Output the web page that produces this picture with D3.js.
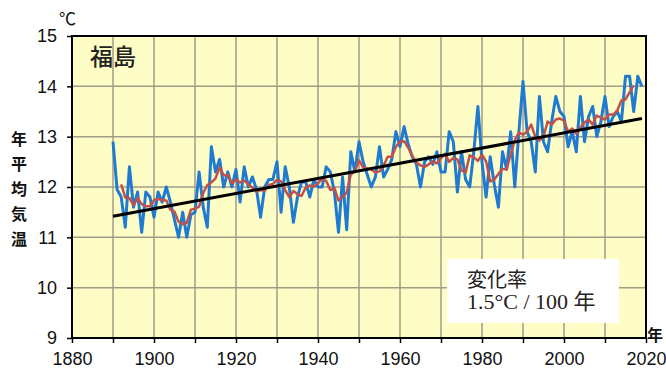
<!DOCTYPE html>
<html>
<head>
<meta charset="utf-8">
<script src="https://cdn.jsdelivr.net/npm/d3@7"></script>
<style>
  body { margin: 0; background: #fff; }
  svg { display: block; font-family: "Liberation Sans", Arial, sans-serif; }
</style>
</head>
<body>
<svg id="chart" width="666" height="371"></svg>
<script>
// annual mean temperature, Fukushima
var years = d3.range(1890, 2020);
var annual = [
  12.9, 11.95, 11.8, 11.2, 12.4, 11.6, 11.9, 11.1, 11.9, 11.8,
  11.4, 11.9, 11.7, 12.0, 11.7, 11.35, 11.0, 11.5, 11.0, 11.45,
  11.5, 12.3, 11.6, 11.2, 12.8, 12.3, 12.55, 12.0, 12.3, 12.0,
  12.35, 11.7, 12.4, 12.0, 12.2, 11.95, 11.4, 12.0, 12.15, 12.15,
  12.5, 11.5, 12.4, 12.0, 11.3, 11.8, 12.1, 12.1, 11.8, 12.15,
  12.0, 12.0, 12.4, 12.3, 11.9, 11.1, 12.2, 11.15, 12.7, 12.3,
  12.9, 12.5, 12.25, 12.0, 12.2, 12.8, 12.2, 12.35, 12.55, 13.1,
  12.8, 13.2, 12.85, 12.6, 12.45, 12.0, 12.5, 12.6, 12.45, 12.7,
  12.3, 12.3, 13.1, 12.9, 11.9, 12.7, 12.15, 12.0, 12.7, 13.6,
  12.5, 11.8, 12.6, 12.05, 11.6, 12.7, 12.35, 13.1, 12.0, 13.1,
  14.1, 13.1, 12.9, 12.3, 13.8, 12.9, 12.7, 13.3, 13.8, 13.5,
  13.4, 12.8, 13.1, 12.7, 13.8, 12.9, 13.4, 13.6, 13.0, 13.3,
  13.8, 13.2, 13.4, 13.5, 13.3, 14.2, 14.2, 13.5, 14.2, 14.0
];

// 5-year running mean (red), 1892-2017
var meanYears = d3.range(1892, 2018);
var runningMean = [
  12.05, 11.79, 11.78, 11.64, 11.78, 11.66, 11.62, 11.62,
  11.74, 11.76, 11.74, 11.73, 11.55, 11.51, 11.31, 11.26, 11.29, 11.55,
  11.57, 11.61, 11.88, 12.04, 12.09, 12.17, 12.39, 12.23, 12.24, 12.07,
  12.15, 12.09, 12.13, 12.05, 11.99, 11.91, 11.94, 11.93, 12.04, 12.06,
  12.14, 12.11, 11.94, 11.80, 11.92, 11.86, 11.82, 11.99, 12.03, 12.01,
  12.07, 12.17, 12.12, 11.94, 11.98, 11.73, 11.81, 11.89, 12.25, 12.31,
  12.53, 12.39, 12.37, 12.35, 12.29, 12.31, 12.42, 12.60, 12.60, 12.80,
  12.90, 12.91, 12.78, 12.62, 12.48, 12.43, 12.40, 12.45, 12.51, 12.47,
  12.57, 12.66, 12.50, 12.58, 12.55, 12.33, 12.29, 12.63, 12.59, 12.52,
  12.64, 12.51, 12.11, 12.15, 12.26, 12.36, 12.35, 12.65, 12.93, 13.08,
  13.04, 13.10, 13.24, 13.00, 12.92, 13.00, 13.30, 13.24, 13.34, 13.36,
  13.32, 13.10, 13.16, 13.06, 13.18, 13.28, 13.34, 13.24, 13.42, 13.38,
  13.34, 13.44, 13.44, 13.52, 13.72, 13.74, 13.88, 14.02
];

// long-term trend (1.5 °C / 100 years)
var trendYears = [1890, 2019];
var trendValues = [11.42, 13.36];

var xTicks = d3.range(1880, 2021, 20);
var xMinorTicks = d3.range(1880, 2021, 10);
var yTicks = [9, 10, 11, 12, 13, 14, 15];
var yTitle = ["年", "平", "均", "気", "温"];

var svg = d3.select("#chart");
var margin = {top: 36, right: 20, bottom: 33, left: 72},
    width = 666 - margin.left - margin.right,
    height = 371 - margin.top - margin.bottom;

var x = d3.scaleLinear().domain([1880, 2020]).range([0, width]);
var y = d3.scaleLinear().domain([9, 15]).range([height, 0]);

var g = svg.append("g").attr("transform", "translate(" + margin.left + "," + margin.top + ")");

// plot background
g.append("rect").attr("width", width).attr("height", height).attr("fill", "#fffdc6");

// grid
g.selectAll("line.vgrid").data(xMinorTicks.slice(1, -1)).enter().append("line")
  .attr("class", "vgrid")
  .attr("x1", function(d) { return x(d); }).attr("x2", function(d) { return x(d); })
  .attr("y1", 0).attr("y2", height)
  .attr("stroke", "#a09c88").attr("stroke-width", 1.5);
g.selectAll("line.hgrid").data(yTicks.slice(1, -1)).enter().append("line")
  .attr("class", "hgrid")
  .attr("x1", 0).attr("x2", width)
  .attr("y1", function(d) { return y(d); }).attr("y2", function(d) { return y(d); })
  .attr("stroke", "#a09c88").attr("stroke-width", 1.5);

// axes
var xAxis = g.append("g").attr("transform", "translate(0," + height + ")")
  .call(d3.axisBottom(x).tickValues(xMinorTicks).tickSize(5).tickFormat(function(d) {
    return xTicks.indexOf(d) >= 0 ? d : "";
  }));
var yAxis = g.append("g")
  .call(d3.axisLeft(y).tickValues(yTicks).tickSize(5).tickFormat(d3.format("d")));

[xAxis, yAxis].forEach(function(a) {
  a.select(".domain").remove();
  a.selectAll(".tick line").attr("stroke", "#000").attr("stroke-width", 1.5);
  a.selectAll(".tick text").attr("fill", "#111")
    .style("font-family", "'Liberation Sans Narrow', 'Liberation Sans', sans-serif")
    .style("font-size", "18px");
});
xAxis.selectAll(".tick text").attr("dy", "1.05em");
yAxis.selectAll(".tick text").attr("x", -15);

// lines
var line = d3.line()
  .x(function(d) { return x(d[0]); })
  .y(function(d) { return y(d[1]); });

g.append("path")
  .datum(d3.zip(years, annual))
  .attr("fill", "none").attr("stroke", "#1f7bd1").attr("stroke-width", 3)
  .attr("stroke-linejoin", "round")
  .attr("d", line);

g.append("path")
  .datum(d3.zip(meanYears, runningMean))
  .attr("fill", "none").attr("stroke", "#c4504a").attr("stroke-width", 2.5)
  .attr("stroke-linejoin", "round")
  .attr("d", line);

g.append("path")
  .datum(d3.zip(trendYears, trendValues))
  .attr("fill", "none").attr("stroke", "#000").attr("stroke-width", 3)
  .attr("d", line);

// frame
g.append("rect").attr("width", width).attr("height", height)
  .attr("fill", "none").attr("stroke", "#000").attr("stroke-width", 2);

// station name
g.append("text").attr("x", 18).attr("y", 29)
  .style("font-family", "'Noto Sans CJK JP'").style("font-size", "23px").style("font-weight", 500)
  .attr("fill", "#222").text("福島");

// rate box
var box = g.append("g").attr("transform", "translate(" + (447 - margin.left) + "," + (259 - margin.top) + ")");
box.append("rect").attr("width", 172).attr("height", 64).attr("fill", "#fff");
box.append("text").attr("x", 20).attr("y", 28)
  .style("font-family", "'Liberation Serif', 'Noto Sans CJK JP'").style("font-size", "20px")
  .attr("fill", "#222").text("変化率");
box.append("text").attr("x", 20).attr("y", 50)
  .style("font-family", "'Liberation Serif', 'Noto Sans CJK JP'").style("font-size", "22px")
  .attr("fill", "#222").text("1.5°C / 100 年");

// units
svg.append("text").attr("x", 59).attr("y", 25)
  .style("font-family", "'Noto Sans CJK JP'").style("font-size", "17px")
  .attr("fill", "#111").text("℃");
svg.append("text").attr("x", 647).attr("y", 341)
  .style("font-family", "'Noto Sans CJK JP'").style("font-size", "16px").style("font-weight", 700)
  .attr("fill", "#111").text("年");

// vertical y title
svg.append("g").selectAll("text").data(yTitle).enter().append("text")
  .attr("x", 19).attr("y", function(d, i) { return 145 + i * 25; })
  .attr("text-anchor", "middle")
  .style("font-family", "'Noto Sans CJK JP'").style("font-size", "16px").style("font-weight", 700)
  .attr("fill", "#111").text(function(d) { return d; });
</script>
</body>
</html>
